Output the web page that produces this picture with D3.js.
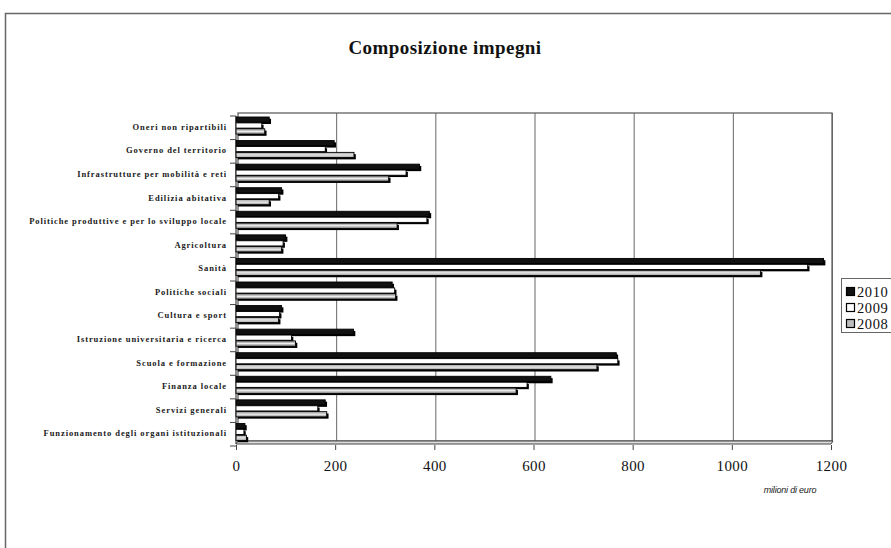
<!DOCTYPE html>
<html>
<head>
<meta charset="utf-8">
<script src="https://cdn.jsdelivr.net/npm/d3@7"></script>
<style>
  html, body { margin: 0; padding: 0; background: #fff; overflow: hidden; }
  svg { display: block; }
</style>
</head>
<body>
<svg id="chart" width="891" height="548"></svg>
<script>
const categories = [
  "Oneri non ripartibili",
  "Governo del territorio",
  "Infrastrutture per mobilità e reti",
  "Edilizia abitativa",
  "Politiche produttive e per lo sviluppo locale",
  "Agricoltura",
  "Sanità",
  "Politiche sociali",
  "Cultura e sport",
  "Istruzione universitaria e ricerca",
  "Scuola e formazione",
  "Finanza locale",
  "Servizi generali",
  "Funzionamento degli organi istituzionali"
];
const values2010 = [67, 198, 370, 92, 390, 100, 1185, 315, 92, 237, 767, 635, 180, 18];
const values2009 = [52, 180, 343, 86, 385, 95, 1153, 320, 88, 112, 770, 587, 165, 16];
const values2008 = [58, 238, 308, 67, 325, 92, 1058, 322, 86, 120, 728, 565, 183, 21];
const seriesNames = ["2010", "2009", "2008"];
const xTicks = [0, 200, 400, 600, 800, 1000, 1200];
const titleText = "Composizione impegni";
const unitText = "milioni di euro";

const series = [
  { name: seriesNames[0], values: values2010, fill: "#111", stroke: "#000" },
  { name: seriesNames[1], values: values2009, fill: "#fff", stroke: "#000" },
  { name: seriesNames[2], values: values2008, fill: "#bdbdbd", stroke: "#000" }
];

const svg = d3.select("#chart");

// outer frame (left and top edges visible)
svg.append("path").attr("d", "M5.5,560 L5.5,13.5 L900,13.5")
  .attr("fill", "none").attr("stroke", "#666").attr("stroke-width", 1.5);

// title
svg.append("text").attr("x", 445).attr("y", 54).attr("text-anchor", "middle")
  .attr("font-family", "Liberation Serif, serif").attr("font-weight", "bold")
  .attr("font-size", 19).attr("letter-spacing", 0.45).attr("fill", "#111").text(titleText);

const x = d3.scaleLinear().domain([0, 1200]).range([236, 831]);
const y = d3.scaleBand().domain(categories).range([114, 444]);

// back wall
svg.append("rect").attr("x", x(0) + 2).attr("y", 113).attr("width", x(1200) - x(0) - 1).attr("height", 328)
  .attr("fill", "#fff").attr("stroke", "#555").attr("stroke-width", 1.2);

// gridlines
svg.append("g").selectAll("line").data(xTicks.slice(1)).join("line")
  .attr("x1", d => x(d) + 1.5).attr("x2", d => x(d) + 1.5)
  .attr("y1", 113).attr("y2", 441)
  .attr("stroke", "#666").attr("stroke-width", 1);

// floor
svg.append("path")
  .attr("d", `M${x(0)},444 L${x(1200)},444 L${x(1200) + 2},441 L${x(0) + 2},441 Z`)
  .attr("fill", "#ddd").attr("stroke", "#444").attr("stroke-width", 1);

// left axis line
svg.append("line").attr("x1", x(0)).attr("x2", x(0)).attr("y1", 116).attr("y2", 444)
  .attr("stroke", "#444").attr("stroke-width", 1.2);

// category tick marks at band boundaries
const bounds = categories.map(c => y(c)).concat([y.range()[1]]);
svg.append("g").selectAll("line").data(bounds).join("line")
  .attr("x1", x(0) - 6).attr("x2", x(0)).attr("y1", d => d + 2).attr("y2", d => d + 2)
  .attr("stroke", "#444").attr("stroke-width", 1);

// bars
const barH = 5.2, barStep = 5.9, depth = 1.8;
series.forEach((s, si) => {
  const g = svg.append("g");
  const data = categories.map((c, i) => ({ c, v: s.values[i] }));
  const yy = d => y(d.c) + 3 + si * barStep;
  g.selectAll("rect.sh").data(data).join("rect").attr("class", "sh")
    .attr("x", x(0) + depth).attr("y", d => yy(d) + depth)
    .attr("width", d => x(d.v) - x(0)).attr("height", barH)
    .attr("fill", "#000");
  g.selectAll("rect.face").data(data).join("rect").attr("class", "face")
    .attr("x", x(0)).attr("y", yy)
    .attr("width", d => x(d.v) - x(0)).attr("height", barH)
    .attr("fill", s.fill).attr("stroke", s.stroke).attr("stroke-width", 0.9);
  if (si === 2) {
    g.selectAll("line.st").data(data).join("line").attr("class", "st")
      .attr("x1", x(0) + 1).attr("x2", d => x(d.v) - 1)
      .attr("y1", d => yy(d) + barH / 2).attr("y2", d => yy(d) + barH / 2)
      .attr("stroke", "#f2f2f2").attr("stroke-width", 1);
  }
});

// category labels
svg.append("g").selectAll("text").data(categories).join("text")
  .attr("x", 227).attr("y", d => y(d) + y.bandwidth() / 2 + 4)
  .attr("text-anchor", "end")
  .attr("font-family", "Liberation Serif, serif").attr("font-weight", "bold")
  .attr("font-size", 8.5).attr("letter-spacing", 0.92).attr("fill", "#1a1a1a")
  .text(d => d);

// x axis
const xAxis = d3.axisBottom(x).tickValues(xTicks).tickSize(5).tickPadding(10).tickFormat(d3.format("d"));
const gx = svg.append("g").attr("transform", "translate(0,445)").call(xAxis);
gx.select(".domain").remove();
gx.selectAll(".tick line").attr("stroke", "#444");
gx.selectAll(".tick text").attr("font-family", "Liberation Serif, serif").attr("font-size", 15)
  .attr("letter-spacing", 0.4).attr("fill", "#111");

// unit label
svg.append("text").attr("x", 790).attr("y", 493).attr("text-anchor", "middle")
  .attr("font-family", "Liberation Sans, Arial, sans-serif").attr("font-style", "italic")
  .attr("font-size", 9).attr("letter-spacing", -0.2).attr("fill", "#222").text(unitText);

// legend
const lg = svg.append("g");
lg.append("rect").attr("x", 841.5).attr("y", 278.5).attr("width", 80).attr("height", 54)
  .attr("fill", "#fff").attr("stroke", "#666").attr("stroke-width", 1);
series.forEach((s, i) => {
  const cy = 292 + i * 16;
  lg.append("rect").attr("x", 846.5).attr("y", cy - 4.5).attr("width", 8).attr("height", 8)
    .attr("fill", s.fill).attr("stroke", "#000").attr("stroke-width", 1.2);
  lg.append("text").attr("x", 857).attr("y", cy + 5)
    .attr("font-family", "Liberation Serif, serif").attr("font-size", 14.5).attr("letter-spacing", 0.6)
    .attr("fill", "#111").text(s.name);
});
</script>
</body>
</html>
